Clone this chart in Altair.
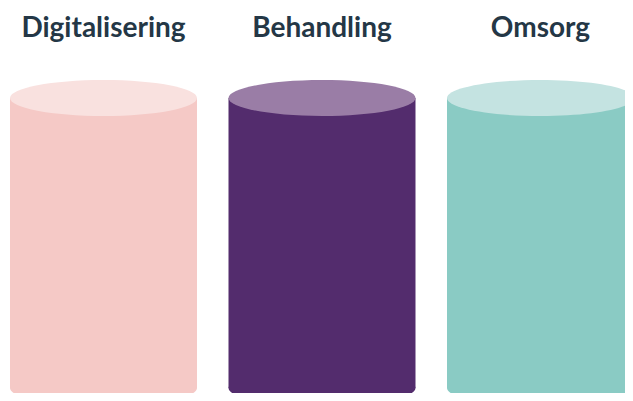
import altair as alt
import pandas as pd

# ---- data ----
categories = ["Digitalisering", "Behandling", "Omsorg"]
body_colors = ["#F5C9C6", "#532C6D", "#8ACBC4"]
top_colors = ["#F9E1DF", "#9A7DA6", "#C4E3E1"]
level = [1, 1, 1]
base = [0, 0, 0]

df = pd.DataFrame({
    "cat": categories,
    "body": body_colors,
    "top": top_colors,
    "level": level,
    "base": base,
})

ELLIPSE = "M -1 0 A 1 0.1925 0 1 1 1 0 A 1 0.1925 0 1 1 -1 0 Z"
BAND = 187

xscale = alt.Scale(paddingInner=0.1442, paddingOuter=0, range=[0, 624])
yscale = alt.Scale(domain=[0, 1])

x_enc = alt.X(
    "cat:N",
    sort=categories,
    scale=xscale,
    axis=alt.Axis(
        orient="top",
        title=None,
        domain=False,
        ticks=False,
        tickSize=0,
        grid=False,
        labelFont="Lato",
        labelFontSize=28,
        labelFontWeight="bold",
        labelColor="#243746",
        labelPadding=62,
        labelBaseline="alphabetic",
        labelAngle=0,
        labelLimit=0,
    ),
)

bottom = alt.Chart(df).mark_point(
    filled=True, shape=ELLIPSE, size=BAND * BAND, opacity=1, strokeWidth=0
).encode(
    x=x_enc,
    y=alt.Y("base:Q", scale=yscale, axis=None),
    color=alt.Color("body:N", scale=None),
)

body = alt.Chart(df).mark_bar().encode(
    x=x_enc,
    y=alt.Y("level:Q", scale=yscale, axis=None),
    y2="base:Q",
    color=alt.Color("body:N", scale=None),
)

top = alt.Chart(df).mark_point(
    filled=True, shape=ELLIPSE, size=BAND * BAND, opacity=1, strokeWidth=0
).encode(
    x=x_enc,
    y=alt.Y("level:Q", scale=yscale, axis=None),
    color=alt.Color("top:N", scale=None),
)

chart = alt.layer(bottom, body, top).properties(
    width=615,
    height=290,
    autosize=alt.AutoSizeParams(type="none"),
    padding={"left": 2, "top": 90, "right": 0, "bottom": 5},
).configure(background="white").configure_view(stroke=None)

chart.save("out.html", embed_options={"renderer": "svg", "actions": False})
